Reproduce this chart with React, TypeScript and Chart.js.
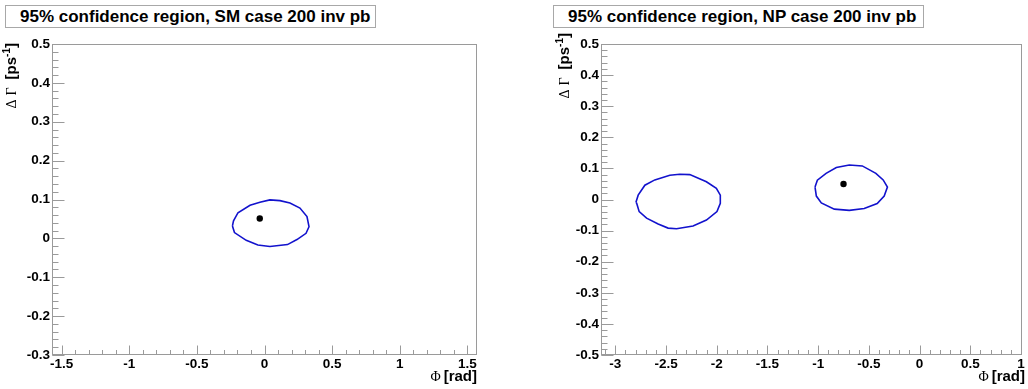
import React, { useEffect, useRef } from "react";
import { Chart, registerables } from "chart.js";

Chart.register(...registerables);

const SANS = '"Liberation Sans", Arial, Helvetica, sans-serif';
const SERIF = '"Liberation Serif", "DejaVu Serif", "Times New Roman", serif';
const CONTOUR_COLOR = "rgb(18,18,205)";
const FRAME_COLOR = "#9a9a9a";

// ---- titles ----
const smTitle = "95% confidence region, SM case 200 inv pb";
const npTitle = "95% confidence region, NP case 200 inv pb";

// ---- tick labels ----
const smPhiTicks = [-1.5, -1, -0.5, 0, 0.5, 1, 1.5];
const smDGTicks = [-0.3, -0.2, -0.1, 0, 0.1, 0.2, 0.3, 0.4, 0.5];
const npPhiTicks = [-3, -2.5, -2, -1.5, -1, -0.5, 0, 0.5, 1];
const npDGTicks = [-0.5, -0.4, -0.3, -0.2, -0.1, 0, 0.1, 0.2, 0.3, 0.4, 0.5];

// ---- SM case: 95% contour (Phi [rad], DeltaGamma [ps^-1]) ----
const smContourPhi = [-0.237, -0.229, -0.196, -0.107, -0.034, 0.040, 0.114, 0.188, 0.262, 0.314, 0.329, 0.307, 0.240, 0.170, 0.040, -0.049, -0.135, -0.222, -0.237];
const smContourDG = [0.032, 0.045, 0.066, 0.085, 0.093, 0.099, 0.097, 0.091, 0.078, 0.056, 0.030, 0.013, -0.003, -0.016, -0.021, -0.017, -0.005, 0.015, 0.032];
const smBestPhi = [-0.035];
const smBestDG = [0.051];

// ---- NP case: two 95% contours ----
const npContourAPhi = [-2.797, -2.775, -2.709, -2.611, -2.463, -2.365, -2.266, -2.102, -2.004, -1.965, -1.965, -1.998, -2.102, -2.234, -2.397, -2.480, -2.578, -2.692, -2.765, -2.790, -2.797];
const npContourADG = [-0.009, 0.014, 0.046, 0.063, 0.078, 0.081, 0.080, 0.057, 0.036, 0.014, -0.012, -0.039, -0.066, -0.085, -0.094, -0.092, -0.079, -0.060, -0.039, -0.012, -0.009];
const npContourBPhi = [-1.031, -1.008, -0.922, -0.821, -0.693, -0.565, -0.431, -0.359, -0.317, -0.349, -0.418, -0.546, -0.693, -0.841, -0.969, -1.018, -1.031];
const npContourBDG = [0.040, 0.062, 0.084, 0.103, 0.111, 0.108, 0.084, 0.063, 0.040, 0.011, -0.013, -0.029, -0.035, -0.031, -0.011, 0.011, 0.040];
const npBestPhi = [-0.75];
const npBestDG = [0.05];

type Contour = { phi: number[]; dg: number[] };
type PanelSpec = {
  left: number;
  title: string;
  titleBoxLeft: number;
  titleBoxWidth: number;
  xMin: number;
  xMax: number;
  yMin: number;
  yMax: number;
  xTicks: number[];
  yTicks: number[];
  contours: Contour[];
  bestPhi: number[];
  bestDG: number[];
  yAxisWidth: number;
  padRight: number;
  yTitleX: number;
  yTitleEnd: number;
  xTitleRight: number;
};

const fmt = (v: number) => String(Math.round(v * 100) / 100);

type Seg = { text?: string; font?: string; dy?: number; gap?: number };

function segWidth(ctx: CanvasRenderingContext2D, segs: Seg[]) {
  let w = 0;
  for (const s of segs) {
    if (s.gap) w += s.gap;
    if (s.text) {
      ctx.font = s.font!;
      w += ctx.measureText(s.text).width;
    }
  }
  return w;
}

function drawSegs(ctx: CanvasRenderingContext2D, segs: Seg[], x0: number, y0: number) {
  let x = x0;
  for (const s of segs) {
    if (s.gap) x += s.gap;
    if (s.text) {
      ctx.font = s.font!;
      ctx.fillText(s.text, x, y0 + (s.dy || 0));
      x += ctx.measureText(s.text).width;
    }
  }
}

const rootFramePlugin = {
  id: "rootFrame",
  beforeDatasetsDraw(chart: any, _args: any, opts: any) {
    const { ctx, chartArea: a, scales } = chart;
    const xs = scales.x;
    const ys = scales.y;
    ctx.save();
    ctx.strokeStyle = FRAME_COLOR;
    ctx.lineWidth = 1;
    const L = Math.round(a.left) + 0.5;
    const R = Math.round(a.right) - 0.5;
    const T = Math.round(a.top) + 0.5;
    const B = Math.round(a.bottom) - 0.5;
    ctx.strokeRect(L, T, R - L, B - T);
    ctx.beginPath();
    for (const v of opts.xTicks) {
      const px = Math.round(xs.getPixelForValue(v)) + 0.5;
      ctx.moveTo(px, B);
      ctx.lineTo(px, B - opts.xMajorLen);
    }
    const xs0 = Math.ceil(xs.min / opts.xMinorStep - 1e-6);
    const xs1 = Math.floor(xs.max / opts.xMinorStep + 1e-6);
    for (let i = xs0; i <= xs1; i++) {
      const v = i * opts.xMinorStep;
      const px = Math.round(xs.getPixelForValue(v)) + 0.5;
      ctx.moveTo(px, B);
      ctx.lineTo(px, B - opts.xMinorLen);
    }
    for (const v of opts.yTicks) {
      const py = Math.round(ys.getPixelForValue(v)) + 0.5;
      ctx.moveTo(L, py);
      ctx.lineTo(L + opts.yMajorLen, py);
    }
    const ys0 = Math.ceil(ys.min / opts.yMinorStep - 1e-6);
    const ys1 = Math.floor(ys.max / opts.yMinorStep + 1e-6);
    for (let i = ys0; i <= ys1; i++) {
      const v = i * opts.yMinorStep;
      const py = Math.round(ys.getPixelForValue(v)) + 0.5;
      ctx.moveTo(L, py);
      ctx.lineTo(L + opts.yMinorLen, py);
    }
    ctx.stroke();
    ctx.restore();
  },
  afterDraw(chart: any, _args: any, opts: any) {
    const { ctx } = chart;
    ctx.save();
    ctx.fillStyle = "#000";
    ctx.textBaseline = "alphabetic";
    ctx.textAlign = "left";
    const xSegs: Seg[] = [
      { text: "\u03A6", font: `14px ${SERIF}` },
      { gap: 3 },
      { text: "[rad]", font: `bold 15px ${SANS}` },
    ];
    const xw = segWidth(ctx, xSegs);
    drawSegs(ctx, xSegs, opts.xTitleRight - xw, 381);
    const ySegs: Seg[] = [
      { text: "\u0394", font: `14px ${SERIF}` },
      { gap: 4 },
      { text: "\u0393", font: `14px ${SERIF}` },
      { gap: 8 },
      { text: "[ps", font: `bold 15px ${SANS}` },
      { text: "-1", font: `bold 10px ${SANS}`, dy: -6 },
      { text: "]", font: `bold 15px ${SANS}` },
    ];
    const yw = segWidth(ctx, ySegs);
    ctx.translate(opts.yTitleX, opts.yTitleEnd);
    ctx.rotate(-Math.PI / 2);
    drawSegs(ctx, ySegs, -yw, 0);
    ctx.restore();
  },
};

function buildConfig(p: PanelSpec): any {
  const datasets: any[] = p.contours.map((c) => ({
    data: c.phi.map((x, i) => ({ x, y: c.dg[i] })),
    showLine: true,
    borderColor: CONTOUR_COLOR,
    borderWidth: 1.6,
    pointRadius: 0,
    tension: 0,
    fill: false,
  }));
  datasets.push({
    data: p.bestPhi.map((x, i) => ({ x, y: p.bestDG[i] })),
    showLine: false,
    pointRadius: 3.2,
    pointBackgroundColor: "#000",
    pointBorderWidth: 0,
    backgroundColor: "#000",
  });
  const tickFont = { family: SANS, size: 13.5, weight: "bold" as const };
  return {
    type: "scatter",
    data: { datasets },
    options: {
      animation: false,
      responsive: false,
      devicePixelRatio: 1,
      events: [],
      layout: { autoPadding: false, padding: { left: 0, top: 44, right: p.padRight, bottom: 0 } },
      plugins: {
        legend: { display: false },
        tooltip: { enabled: false },
        title: { display: false },
        rootFrame: {
          xTicks: p.xTicks,
          yTicks: p.yTicks,
          xMajorLen: 9,
          xMinorLen: 4.5,
          xMinorStep: 0.1,
          yMajorLen: 12,
          yMinorLen: 6,
          yMinorStep: 0.02,
          yTitleX: p.yTitleX,
          yTitleEnd: p.yTitleEnd,
          xTitleRight: p.xTitleRight,
        },
      },
      scales: {
        x: {
          type: "linear",
          min: p.xMin,
          max: p.xMax,
          afterBuildTicks: (s: any) => {
            s.ticks = p.xTicks.map((v) => ({ value: v }));
          },
          afterFit: (s: any) => {
            s.height = 34;
          },
          grid: { display: false, drawTicks: false },
          border: { display: false },
          ticks: {
            autoSkip: false,
            maxRotation: 0,
            padding: 1,
            color: "#000",
            font: tickFont,
            callback: (v: any) => fmt(Number(v)),
          },
        },
        y: {
          type: "linear",
          min: p.yMin,
          max: p.yMax,
          afterBuildTicks: (s: any) => {
            s.ticks = p.yTicks.map((v) => ({ value: v }));
          },
          afterFit: (s: any) => {
            s.width = p.yAxisWidth;
          },
          grid: { display: false, drawTicks: false },
          border: { display: false },
          ticks: {
            autoSkip: false,
            padding: 2,
            color: "#000",
            font: tickFont,
            callback: (v: any) => fmt(Number(v)),
          },
        },
      },
    },
    plugins: [rootFramePlugin],
  };
}

const panels: PanelSpec[] = [
  {
    left: 0,
    title: smTitle,
    titleBoxLeft: 5,
    titleBoxWidth: 371,
    xMin: -Math.PI / 2,
    xMax: Math.PI / 2,
    yMin: -0.3,
    yMax: 0.5,
    xTicks: smPhiTicks,
    yTicks: smDGTicks,
    contours: [{ phi: smContourPhi, dg: smContourDG }],
    bestPhi: smBestPhi,
    bestDG: smBestDG,
    yAxisWidth: 52,
    padRight: 37,
    yTitleX: 16,
    yTitleEnd: 43,
    xTitleRight: 477,
  },
  {
    left: 514,
    title: npTitle,
    titleBoxLeft: 39,
    titleBoxWidth: 371,
    xMin: -Math.PI,
    xMax: 1.01,
    yMin: -0.5,
    yMax: 0.5,
    xTicks: npPhiTicks,
    yTicks: npDGTicks,
    contours: [
      { phi: npContourAPhi, dg: npContourADG },
      { phi: npContourBPhi, dg: npContourBDG },
    ],
    bestPhi: npBestPhi,
    bestDG: npBestDG,
    yAxisWidth: 87,
    padRight: 6,
    yTitleX: 55,
    yTitleEnd: 33,
    xTitleRight: 511,
  },
];

function Panel({ spec }: { spec: PanelSpec }) {
  const ref = useRef<HTMLCanvasElement>(null);
  useEffect(() => {
    const chart = new Chart(ref.current as HTMLCanvasElement, buildConfig(spec));
    return () => chart.destroy();
  }, [spec]);
  return (
    <div style={{ position: "absolute", left: spec.left, top: 0, width: 514, height: 389 }}>
      <canvas ref={ref} width={514} height={389} style={{ width: 514, height: 389, display: "block" }} />
      <div
        style={{
          position: "absolute",
          left: spec.titleBoxLeft,
          top: 5,
          width: spec.titleBoxWidth,
          height: 23,
          boxSizing: "border-box",
          border: "1px solid #a8a8a8",
          background: "#fff",
          fontFamily: SANS,
          fontWeight: "bold",
          fontSize: 17,
          lineHeight: "21px",
          paddingLeft: 14,
          whiteSpace: "nowrap",
          color: "#000",
        }}
      >
        {spec.title}
      </div>
    </div>
  );
}

export default function App() {
  useEffect(() => {
    document.body.style.margin = "0";
  }, []);
  return (
    <div style={{ position: "fixed", left: 0, top: 0, width: 1028, height: 389, background: "#fff" }}>
      {panels.map((p, i) => (
        <Panel key={i} spec={p} />
      ))}
    </div>
  );
}
